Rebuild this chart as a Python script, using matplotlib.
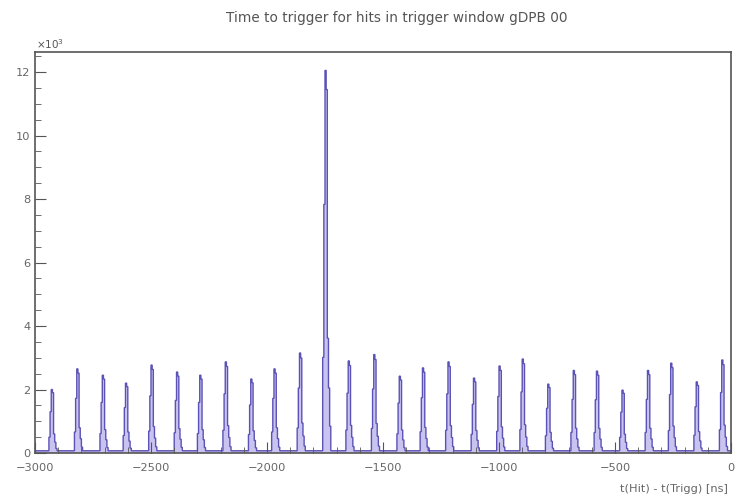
import numpy as np
import matplotlib.pyplot as plt
from matplotlib.ticker import MultipleLocator

# --- DATA ---
peak_pos = [-2930, -2820, -2710, -2610, -2500, -2390, -2290, -2180, -2070, -1970,
            -1860, -1750, -1650, -1540, -1430, -1330, -1220, -1110, -1000, -900,
            -790, -680, -580, -470, -360, -260, -150, -40]
# peak heights in units of 10^3 counts
peak_height = [2.0, 2.65, 2.45, 2.2, 2.77, 2.55, 2.45, 2.87, 2.33, 2.65,
               3.15, 12.05, 2.9, 3.1, 2.42, 2.68, 2.87, 2.36, 2.74, 2.96,
               2.17, 2.6, 2.58, 1.98, 2.6, 2.83, 2.24, 2.93]
# relative shape of a peak around its maximum bin (bin offset -> fraction)
shape_offset = [-2, -1, 0, 1, 2, 3, 4]
shape_frac = [0.25, 0.65, 1.0, 0.95, 0.3, 0.17, 0.07]
baseline = 0.07

bin_width = 5
edges = np.arange(-3000, 0 + bin_width, bin_width)
counts = np.full(len(edges) - 1, baseline)
for pos, h in zip(peak_pos, peak_height):
    c = int((pos + 3000) // bin_width)
    for off, frac in zip(shape_offset, shape_frac):
        if 0 <= c + off < len(counts):
            counts[c + off] = max(counts[c + off], h * frac)

# --- PLOT ---
fig = plt.figure(figsize=(7.43, 4.96), dpi=100)
ax = fig.add_axes([35 / 743, 1 - 453 / 496, (731 - 35) / 743, (453 - 52) / 496])

ax.stairs(counts, edges, fill=True, color='#c9c3ef', linewidth=0)
ax.stairs(counts, edges, color='#5b52b5', linewidth=1.0)

ax.set_xlim(-3000, 0)
ax.set_ylim(0, 12.63)
ax.xaxis.set_major_locator(MultipleLocator(500))
ax.xaxis.set_minor_locator(MultipleLocator(100))
ax.yaxis.set_major_locator(MultipleLocator(2))
ax.yaxis.set_minor_locator(MultipleLocator(0.5))
ax.tick_params(which='both', direction='in', top=False, right=False,
               colors='#555555', labelsize=8.2, labelcolor='#666666')
ax.tick_params(which='major', length=8)
ax.tick_params(which='minor', length=4)
ax.tick_params(axis='x', pad=7)
for s in ax.spines.values():
    s.set_color('#555555')
    s.set_linewidth(1.2)

fig.text(397 / 743, 1 - 18 / 496, 'Time to trigger for hits in trigger window gDPB 00',
         ha='center', va='center', fontsize=9.8, color='#555555')
fig.text(36 / 743, 1 - 44 / 496, r'$\times10^{3}$', ha='left', va='center',
         fontsize=7.5, color='#555555')
fig.text(728 / 743, 1 - 489 / 496, 't(Hit) - t(Trigg) [ns]', ha='right', va='center',
         fontsize=8.2, color='#666666')

fig.savefig('out.png', dpi=100)
